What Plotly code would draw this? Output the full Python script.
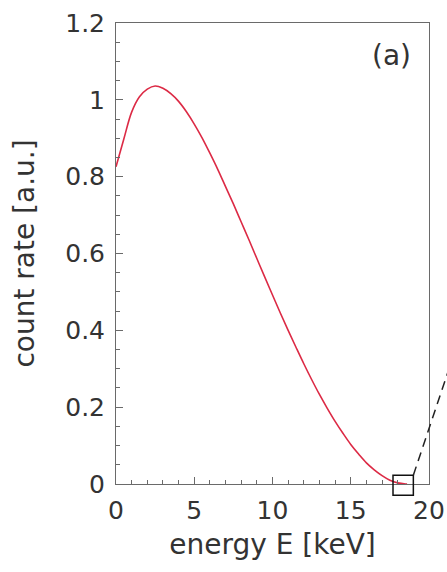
import plotly.graph_objects as go

# Data (tritium beta spectrum, arbitrary units)
energy_keV = [0, 0.5, 1, 1.5, 2, 2.5, 3, 3.5, 4, 4.5, 5, 5.5, 6, 6.5, 7, 7.5,
              8, 8.5, 9, 9.5, 10, 10.5, 11, 11.5, 12, 12.5, 13, 13.5, 14, 14.5,
              15, 15.5, 16, 16.5, 17, 17.5, 18, 18.5, 18.6]
count_rate = [0.826, 0.898, 0.968, 1.008, 1.028, 1.036, 1.030, 1.016, 0.996,
              0.969, 0.937, 0.901, 0.861, 0.819, 0.774, 0.729, 0.682, 0.635,
              0.587, 0.539, 0.492, 0.445, 0.400, 0.356, 0.313, 0.272, 0.233,
              0.197, 0.163, 0.132, 0.103, 0.078, 0.055, 0.037, 0.022, 0.010,
              0.003, 0.0001, 0.0]

x_ticks = [0, 5, 10, 15, 20]
y_ticks = [0, 0.2, 0.4, 0.6, 0.8, 1.0, 1.2]
x_range = [0, 20]
y_range = [0, 1.2]

# zoom box around endpoint (data units) and dashed connector end (data units)
box_E = [17.7, 19.0]
box_v = [-0.029, 0.023]
dash_end = [21.2, 0.29]

def px(e):
    return (e - x_range[0]) / (x_range[1] - x_range[0])

def py(v):
    return (v - y_range[0]) / (y_range[1] - y_range[0])

fig = go.Figure()
fig.add_trace(go.Scatter(
    x=energy_keV, y=count_rate, mode="lines",
    line=dict(color="#dc2a45", width=1.6, shape="spline", smoothing=1.0),
    showlegend=False, hoverinfo="skip"))

axis_col = "#6a6a6a"
font_fam = "DejaVu Sans, Liberation Sans, Arial, sans-serif"
txt_col = "#333333"

fig.update_layout(
    width=447, height=572,
    margin=dict(l=116, r=18, t=23, b=88),
    paper_bgcolor="white", plot_bgcolor="white",
    font=dict(family=font_fam, color=txt_col, size=25),
    xaxis=dict(range=x_range, tickvals=x_ticks, ticks="inside", ticklen=7,
               tickcolor=axis_col, tickwidth=1, automargin=False,
               ticklabelstandoff=4,
               minor=dict(dtick=1, ticks="inside", ticklen=4, tickcolor=axis_col),
               showline=True, linecolor=axis_col, linewidth=1, mirror=True,
               showgrid=False, zeroline=False,
               tickfont=dict(size=25, color=txt_col),
               title=dict(text="energy E [keV]", font=dict(size=28, color=txt_col),
                          standoff=10)),
    yaxis=dict(range=y_range, tickvals=y_ticks, ticks="inside", ticklen=7,
               tickcolor=axis_col, tickwidth=1, automargin=False,
               ticklabelstandoff=5,
               minor=dict(dtick=0.05, ticks="inside", ticklen=4, tickcolor=axis_col),
               showline=True, linecolor=axis_col, linewidth=1, mirror=True,
               showgrid=False, zeroline=False,
               tickfont=dict(size=25, color=txt_col),
               title=dict(text="count rate [a.u.]", font=dict(size=28, color=txt_col),
                          standoff=22)),
)

fig.add_shape(type="rect", xref="paper", yref="paper",
              x0=px(box_E[0]), x1=px(box_E[1]), y0=py(box_v[0]), y1=py(box_v[1]),
              line=dict(color="#111111", width=1.5))
fig.add_shape(type="line", xref="paper", yref="paper",
              x0=px(box_E[1]), y0=py(box_v[1]), x1=px(dash_end[0]), y1=py(dash_end[1]),
              line=dict(color="#222222", width=1.5, dash="9px,6px"))

fig.add_annotation(text="(a)", xref="paper", yref="paper", x=0.95, y=0.93,
                   xanchor="right", yanchor="middle", showarrow=False,
                   font=dict(size=28, color=txt_col))

fig.write_html("out.html",
               config={"displayModeBar": False},
               post_script="document.body.style.margin='0';"
                           "document.body.style.overflow='hidden';")
